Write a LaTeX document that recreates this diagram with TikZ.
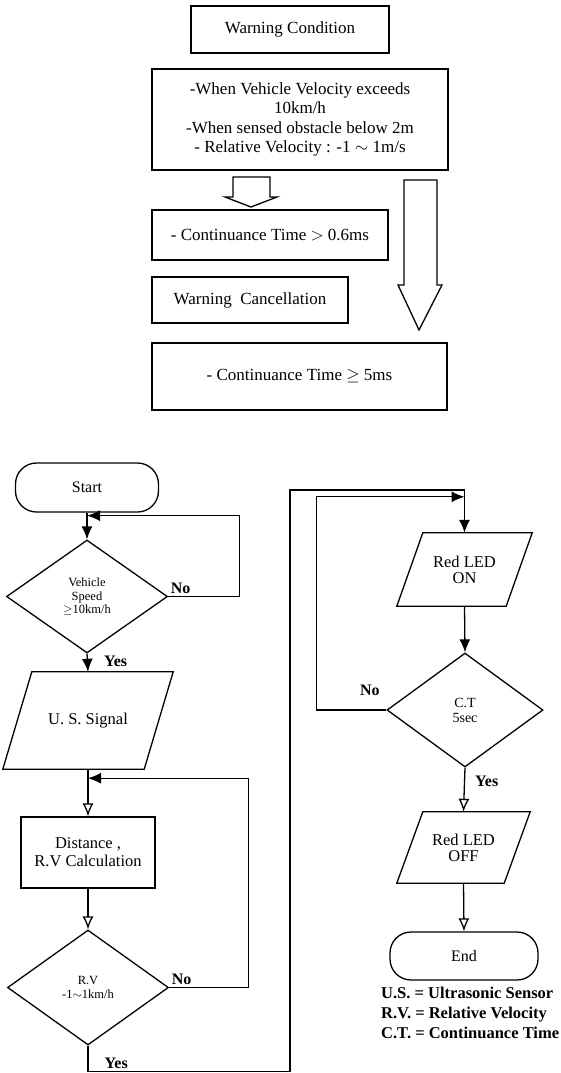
\documentclass[tikz,border=0pt]{standalone}
\usepackage{fontspec}
\setmainfont{Liberation Serif}
\usepackage{tikz}
\usetikzlibrary{positioning,calc}
\usetikzlibrary{shapes.geometric, arrows.meta}
\tikzstyle{box} = [rectangle, draw=black, line width=1.3pt, inner sep=2pt, align=center, font=\fontsize{17}{19.2}\selectfont]
\tikzstyle{startstop} = [rectangle, rounded corners=21pt, draw=black, line width=1.3pt, font=\fontsize{16}{16}\selectfont]
\tikzstyle{io} = [rectangle, inner sep=0pt, align=center, font=\fontsize{16.5}{16}\selectfont]
\tikzstyle{process} = [rectangle, draw=black, line width=1.3pt, align=center, font=\fontsize{16.5}{18}\selectfont]
\tikzstyle{decision} = [diamond, draw=black, line width=1.3pt, inner sep=0pt, align=center, font=\fontsize{12.5}{13.5}\selectfont]
\tikzstyle{arrow} = [line width=1.3pt, -{Latex[length=13pt,width=11pt]}]
\tikzstyle{openarrow} = [line width=1.3pt, -{Latex[open,length=13pt,width=11pt]}]
\tikzstyle{blockarrow} = [draw=black, line width=1.3pt, line join=miter]
\tikzstyle{yesno} = [inner sep=2pt, font=\fontsize{16}{16}\selectfont\bfseries]
\tikzstyle{legend} = [inner sep=0pt, align=left, font=\fontsize{16.5}{20}\selectfont\bfseries]
% parallelogram outline round an io node
\newcommand{\ioshape}[2]{\draw[line width=1.3pt, line join=miter] (#1.south west) -- ($(#1.north west)+(#2,0)$) -- (#1.north east) -- ($(#1.south east)+(-#2,0)$) -- cycle;}

\begin{document}
\begin{tikzpicture}[x=1pt,y=-1pt]
        \useasboundingbox (0,0) rectangle (561,1073);
        % Warning conditions
        \node[box, minimum width=198pt, minimum height=47pt] (wcond) at (290,29.5) {Warning Condition};
        \node[box, minimum width=296pt, minimum height=101pt] (wlist) at (300,119.5) {-When Vehicle Velocity exceeds\\ 10km/h\\ -When sensed obstacle below 2m\\ - Relative Velocity : -1 $\sim$ 1m/s};
        \node[box, minimum width=236pt, minimum height=50pt] (ctime1) at (270,235) {- Continuance Time $>$ 0.6ms};
        \node[box, minimum width=196pt, minimum height=46pt] (wcancel) at (250,300) {Warning \ Cancellation};
        \node[box, minimum width=295pt, minimum height=67pt] (ctime2) at (299.5,376.5) {- Continuance Time $\geq$ 5ms};
        \draw[blockarrow] (233,177) -- (270,177) -- (270,197) -- (277,197) -- (251,207) -- (225,197) -- (233,197) -- cycle;
        \draw[blockarrow] (404,180) -- (437,180) -- (437,285) -- (442,285) -- (419,330) -- (398,285) -- (404,285) -- cycle;
        % Flow chart
        \node[startstop, minimum width=143pt, minimum height=49pt] (start) at (87,487.5) {Start};
        \node[decision, minimum width=161pt, minimum height=113pt] (dec1) at (87,596.5) {Vehicle\\ Speed\\ $\geq$10km/h};
        \node[io, minimum width=170pt, minimum height=97pt] (sig) at (88,720.5) {U. S. Signal};
        \ioshape{sig}{29}
        \node[process, minimum width=134pt, minimum height=71pt] (calc) at (88,852.5) {Distance ,\\ R.V Calculation};
        \node[decision, minimum width=161pt, minimum height=115pt] (dec2) at (88,987.5) {R.V\\ -1$\sim$1km/h};
        \node[io, minimum width=135pt, minimum height=73pt] (ledon) at (464.5,569.5) {Red LED\\ ON};
        \ioshape{ledon}{26}
        \node[decision, minimum width=156pt, minimum height=114pt, font=\fontsize{14}{15}\selectfont] (dec3) at (465,710) {C.T\\ 5sec};
        \node[io, minimum width=133pt, minimum height=71pt] (ledoff) at (463.5,847.5) {Red LED\\ OFF};
        \ioshape{ledoff}{26}
        \node[startstop, minimum width=148pt, minimum height=48pt] (end) at (464,956) {End};
        \node[legend, anchor=north west] (legend) at (381,987) {U.S. = Ultrasonic Sensor\\ R.V. = Relative Velocity\\ C.T. = Continuance Time};
        \coordinate (j1) at ($(start.south)+(0,3)$);
        \coordinate (j2) at ($(sig.south)+(0,9)$);
        \coordinate (j3) at ($(ledon.north)+(0,-36)$);
        \draw[arrow] (start.south) -- (dec1.north);
        \draw[arrow] (dec1.east) node[yesno, above right] {No} -- ++(71,0) |- (j1);
        \draw[arrow] (dec1.south) -- node[yesno, right, pos=0.45, xshift=14pt] {Yes} (sig.north);
        \draw[openarrow] (sig.south) -- (calc.north);
        \draw[arrow] (dec2.east) node[yesno, above right] {No} -- ++(79,0) |- (j2);
        \draw[openarrow] (calc.south) -- (dec2.north);
        \draw[arrow] (dec2.south) -- ++(0,26) node[yesno, above right, xshift=14pt] {Yes} -| (290,490) -| (ledon.north);
        \draw[arrow] (ledon.south) -- (dec3.north);
        \draw[arrow] (dec3.west) node[yesno, above left, yshift=12pt, xshift=-4pt] {No} -- ++(-70,0) |- (j3);
        \draw[openarrow] (dec3.south) -- node[yesno, right, pos=0.3, xshift=8pt] {Yes} (ledoff.north);
        \draw[openarrow] (ledoff.south) -- (end.north);
    \end{tikzpicture}
\end{document}
